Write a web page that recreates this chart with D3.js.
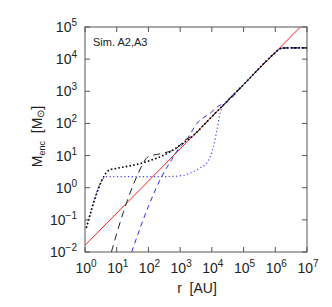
<!DOCTYPE html>
<html>
<head>
<meta charset="utf-8">
<script src="https://cdn.jsdelivr.net/npm/d3@7"></script>
<style>
body { margin:0; background:#fff; }
text { font-family: "Liberation Sans", Arial, sans-serif; fill:#222; }
</style>
</head>
<body>
<div id="chart"></div>
<script>
// values (r in AU, M in solar masses)
var xTicks = [0, 1, 2, 3, 4, 5, 6, 7];
var yTicks = [-2, -1, 0, 1, 2, 3, 4, 5];

var redR = [1, 1e7];
var redM = [0.0162, 1.62e5];

// shared tail, all runs follow the red line then flatten
var tailR = [1e5, 1e6, 1.3e6, 1.6e6, 3e6, 1e7];
var tailM = [1620, 1.6e4, 2.0e4, 2.2e4, 2.24e4, 2.24e4];

var blackDotR = [1.1, 6, 10, 60, 480, 1200, 2000, 1e4];
var blackDotM = [0.056, 3.6, 4.0, 5.8, 13, 24, 34, 163];

var blackDashR = [6.8, 16, 43, 100, 250, 780, 1400, 2500, 1e4];
var blackDashM = [0.01, 0.166, 2.24, 9.3, 11.5, 17, 30, 42, 163];

var blueDashR = [29.5, 100, 263, 537, 1000, 1445, 3390, 8900, 18200, 26300];
var blueDashM = [0.01, 0.263, 2.24, 7.4, 19, 27, 100, 209, 372, 427];

var blueDotR = [1.1, 4.8, 10, 100, 630, 2000, 4000, 6900, 11200, 14500, 18200, 23400, 26300];
var blueDotM = [0.056, 2.2, 2.2, 2.2, 2.25, 2.8, 4.0, 5.8, 19, 63, 209, 372, 427];

var W = 332, H = 307;
var margin = {left: 85, top: 27, right: 25, bottom: 55};
var width = W - margin.left - margin.right,
    height = H - margin.top - margin.bottom;

var svg = d3.select("#chart").append("svg")
    .attr("width", W).attr("height", H);
var g = svg.append("g")
    .attr("transform", "translate(" + margin.left + "," + margin.top + ")");

var x = d3.scaleLog().domain([1, 1e7]).range([0, width]);
var y = d3.scaleLog().domain([1e-2, 1e5]).range([height, 0]);

g.append("clipPath").attr("id", "clip")
  .append("rect").attr("width", width).attr("height", height);

function pts(rs, ms, withTail) {
    var a = rs.map(function(r, i) { return [r, ms[i]]; });
    if (withTail) {
        tailR.forEach(function(r, i) { if (r > rs[rs.length - 1]) a.push([r, tailM[i]]); });
    }
    return a;
}

var line = d3.line()
    .x(function(d) { return x(d[0]); })
    .y(function(d) { return y(d[1]); })
    .curve(d3.curveMonotoneX);

var plot = g.append("g").attr("clip-path", "url(#clip)");

var series = [
    {d: pts(redR, redM, false), c: "#ff2020", w: 1, dash: null},
    {d: pts(blueDotR, blueDotM, true), c: "#4040ff", w: 1.2, dash: "1.2,2.5"},
    {d: pts(blueDashR, blueDashM, true), c: "#2a2af0", w: 1, dash: "5,4"},
    {d: pts(blackDashR, blackDashM, true), c: "#222", w: 1, dash: "7,5"},
    {d: pts(blackDotR, blackDotM, true), c: "#000", w: 1.6, dash: "1.6,2.2"}
];

plot.selectAll("path.s").data(series).enter().append("path")
    .attr("class", "s")
    .attr("d", function(s) { return line(s.d); })
    .attr("fill", "none")
    .attr("stroke", function(s) { return s.c; })
    .attr("stroke-width", function(s) { return s.w; })
    .attr("stroke-dasharray", function(s) { return s.dash; });

// frame
g.append("rect").attr("width", width).attr("height", height)
    .attr("fill", "none").attr("stroke", "#555").attr("stroke-width", 1);

var tl = 5;
var axCol = "#555";
// ticks on all sides, pointing inward
xTicks.forEach(function(e) {
    var px = x(Math.pow(10, e));
    g.append("line").attr("x1", px).attr("x2", px).attr("y1", height).attr("y2", height - tl).attr("stroke", axCol);
    g.append("line").attr("x1", px).attr("x2", px).attr("y1", 0).attr("y2", tl).attr("stroke", axCol);
    var t = g.append("text").attr("x", px + 1).attr("y", height + 21)
        .attr("text-anchor", "middle").style("font-size", "14px");
    t.append("tspan").text("10");
    t.append("tspan").attr("dy", -6).style("font-size", "10px").text(e);
});
yTicks.forEach(function(e) {
    var py = y(Math.pow(10, e));
    g.append("line").attr("y1", py).attr("y2", py).attr("x1", 0).attr("x2", tl).attr("stroke", axCol);
    g.append("line").attr("y1", py).attr("y2", py).attr("x1", width).attr("x2", width - tl).attr("stroke", axCol);
    var t = g.append("text").attr("x", -8).attr("y", py + 5)
        .attr("text-anchor", "end").style("font-size", "14px");
    t.append("tspan").text("10");
    t.append("tspan").attr("dy", -6).style("font-size", "10px").text(e < 0 ? "\u2212" + (-e) : e);
});

g.append("text").attr("x", 8).attr("y", 19).style("font-size", "11px").text("Sim. A2,A3");

// axis titles
svg.append("text").attr("x", margin.left + width / 2 + 1).attr("y", 293)
    .attr("text-anchor", "middle").style("font-size", "14px")
    .attr("xml:space", "preserve").text("r  [AU]");

var yl = svg.append("text")
    .attr("transform", "translate(42," + (margin.top + height / 2 - 3) + ") rotate(-90)")
    .attr("text-anchor", "middle").style("font-size", "14px")
    .attr("xml:space", "preserve");
yl.append("tspan").text("M");
yl.append("tspan").attr("dy", 3).style("font-size", "9px").text("enc");
yl.append("tspan").attr("dy", -3).text("  [M");
yl.append("tspan").attr("dy", 2).style("font-size", "10px").text("\u2299");
yl.append("tspan").attr("dy", -2).text("]");
</script>
</body>
</html>
